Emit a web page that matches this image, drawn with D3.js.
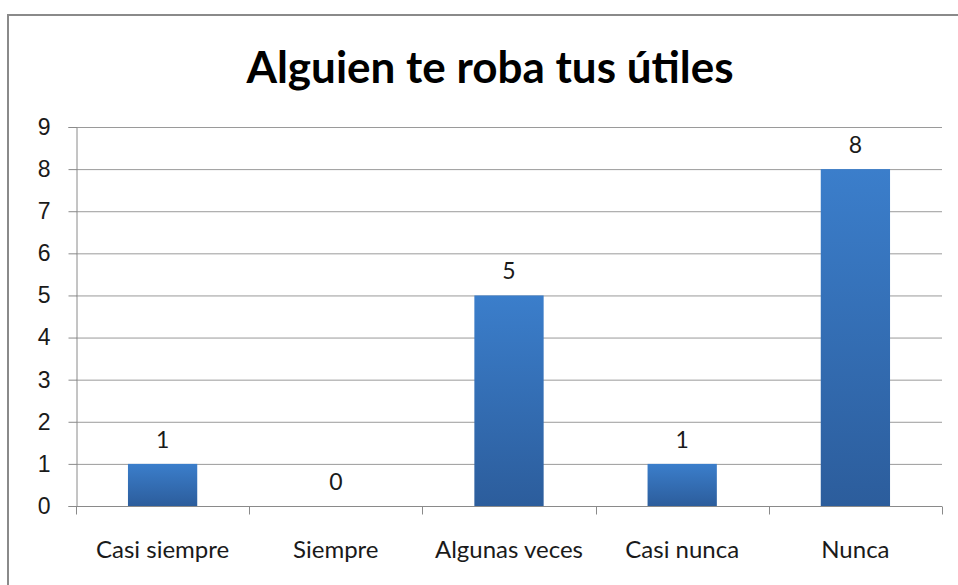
<!DOCTYPE html>
<html>
<head>
<meta charset="utf-8">
<script src="https://cdn.jsdelivr.net/npm/d3@7"></script>
<style>
  body { margin: 0; background: #fff; }
  svg { display: block; font-family: Lato, "Open Sans", sans-serif; }
</style>
</head>
<body>
<div id="chart"></div>
<script>
// data
var categories = ["Casi siempre", "Siempre", "Algunas veces", "Casi nunca", "Nunca"];
var values = [1, 0, 5, 1, 8];
var yTicks = [0, 1, 2, 3, 4, 5, 6, 7, 8, 9];
var title = "Alguien te roba tus útiles";

var W = 958, H = 585;
var margin = { top: 127, right: 16, bottom: 79, left: 76 },
    width = W - margin.left - margin.right,
    height = H - margin.top - margin.bottom;

var svg = d3.select("#chart")
    .append("svg")
    .attr("width", W)
    .attr("height", H);

// chart frame (right and bottom edges fall outside the picture)
svg.append("path")
    .attr("d", "M8,600 L8,15 L970,15")
    .attr("fill", "none")
    .attr("stroke", "#8a8a8a")
    .attr("stroke-width", 2);

// gradient for the bars
var grad = svg.append("defs").append("linearGradient")
    .attr("id", "barGrad")
    .attr("x1", 0).attr("y1", 0).attr("x2", 0).attr("y2", 1);
grad.append("stop").attr("offset", "0%").attr("stop-color", "#3b7ecb");
grad.append("stop").attr("offset", "100%").attr("stop-color", "#2c5d9c");

var g = svg.append("g")
    .attr("transform", "translate(" + margin.left + "," + margin.top + ")");

var x = d3.scaleBand()
    .domain(categories)
    .range([0, width])
    .paddingInner(0.6)
    .paddingOuter(0.3);

var y = d3.scaleLinear()
    .domain([0, 9])
    .range([height, 0]);

// horizontal gridlines
g.append("g")
    .selectAll("line")
    .data(yTicks.slice(1))
    .enter()
    .append("line")
    .attr("x1", 0)
    .attr("x2", width)
    .attr("y1", function (d) { return y(d) + 0.5; })
    .attr("y2", function (d) { return y(d) + 0.5; })
    .attr("stroke", "#9a9a9a")
    .attr("stroke-width", 1);

// y axis
var yAxis = g.append("g")
    .attr("transform", "translate(0.5,0)")
    .call(d3.axisLeft(y).tickValues(yTicks).tickSize(8).tickPadding(18).tickFormat(d3.format("d")));
yAxis.selectAll("text")
    .style("font-size", "23px")
    .attr("fill", "#1a1a1a");

// x axis: ticks at the band edges
var edges = categories.map(function (c) { return x(c) - x.step() * x.paddingInner() / 2; });
edges.push(width);
var xAxis = g.append("g")
    .attr("transform", "translate(0," + (height + 0.5) + ")");
xAxis.append("line")
    .attr("x1", 0).attr("x2", width)
    .attr("stroke", "#8a8a8a");
xAxis.selectAll(".edge")
    .data(edges)
    .enter()
    .append("line")
    .attr("class", "edge")
    .attr("x1", function (d) { return Math.round(d) + 0.5; })
    .attr("x2", function (d) { return Math.round(d) + 0.5; })
    .attr("y1", 0)
    .attr("y2", 8)
    .attr("stroke", "#8a8a8a");
xAxis.selectAll(".lab")
    .data(categories)
    .enter()
    .append("text")
    .attr("class", "lab")
    .attr("x", function (d) { return x(d) + x.bandwidth() / 2; })
    .attr("y", 51)
    .attr("text-anchor", "middle")
    .attr("fill", "#1a1a1a")
    .style("font-size", "24px")
    .text(function (d) { return d; });

yAxis.select(".domain").attr("stroke", "#8a8a8a");
yAxis.selectAll(".tick line").attr("stroke", "#8a8a8a");

// bars
g.selectAll(".bar")
    .data(values)
    .enter()
    .append("rect")
    .attr("class", "bar")
    .attr("x", function (d, i) { return x(categories[i]); })
    .attr("y", function (d) { return y(d); })
    .attr("width", x.bandwidth())
    .attr("height", function (d) { return height - y(d); })
    .attr("fill", "url(#barGrad)");

// value labels
g.selectAll(".val")
    .data(values)
    .enter()
    .append("text")
    .attr("class", "val")
    .attr("x", function (d, i) { return x(categories[i]) + x.bandwidth() / 2; })
    .attr("y", function (d) { return y(d) - 16; })
    .attr("text-anchor", "middle")
    .attr("fill", "#1a1a1a")
    .style("font-size", "23px")
    .text(function (d) { return d; });

// title
svg.append("text")
    .attr("x", 490)
    .attr("y", 83)
    .attr("text-anchor", "middle")
    .style("font-size", "44px")
    .style("font-weight", "bold")
    .attr("fill", "#000")
    .text(title);
</script>
</body>
</html>
